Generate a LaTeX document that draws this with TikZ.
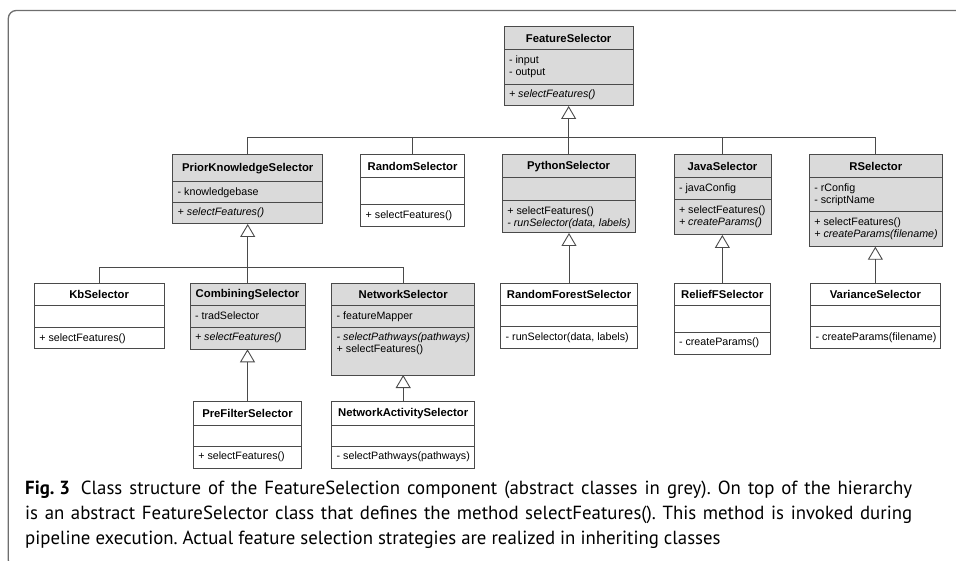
\documentclass[tikz,border=0pt]{standalone}
\usepackage{fontspec}
\setmainfont{Liberation Sans}
\newfontfamily\capfont[FakeStretch=0.99]{PT Sans}
\usetikzlibrary{arrows.meta}

\definecolor{boxline}{HTML}{4A4A4A}
\definecolor{absgray}{HTML}{DADADA}
\definecolor{framegray}{HTML}{6E6E6E}

% compartments of a class box: width, height, text
\newcommand{\ctitle}[3]{\parbox[c][#2pt][c]{#1pt}{\centering\bfseries\fontsize{11.3}{13}\selectfont #3}}
\newcommand{\cpart}[3]{\parbox[t][#2pt][t]{#1pt}{\raggedright\leftskip=5pt\rightskip=0pt plus 1fil\vspace{5pt}\strut#3}}

\begin{document}
\begin{tikzpicture}
[x=1pt,y=-1pt,%
  umlbox/.style={draw=boxline,line width=1pt,inner sep=0pt,outer sep=0pt,%
    anchor=north west,font=\fontsize{10.7}{12}\selectfont},%
  abstract/.style={umlbox,fill=absgray},%
  concrete/.style={umlbox,fill=white},%
  link/.style={draw=boxline,line width=0.9pt},%
  inherit/.style={link,-{Triangle[open,length=13pt,width=15pt]}}]
\useasboundingbox (0,0) rectangle (956,561);
\draw[framegray,line width=1.3pt,rounded corners=8pt] (965,10.5) -- (8.3,10.5) -- (8.3,568) -- (965,568);

% top class
\node[abstract] (fs) at (504,26.7) {\ctitle{129.3}{23.3}{FeatureSelector}};
\node[abstract] (fs-a) at (fs.south west) {\cpart{129.3}{34.3}{- input\\- output}};
\node[abstract] (fs-m) at (fs-a.south west) {\cpart{129.3}{21.7}{\itshape + selectFeatures()}};

% first level
\node[abstract] (pks) at (172.7,155) {\ctitle{150}{26.7}{PriorKnowledgeSelector}};
\node[abstract] (pks-a) at (pks.south west) {\cpart{150}{20.6}{- knowledgebase}};
\node[abstract] (pks-m) at (pks-a.south west) {\cpart{150}{21.7}{\itshape + selectFeatures()}};

\node[concrete] (rs) at (360.7,155) {\ctitle{103.6}{22.7}{RandomSelector}};
\node[concrete] (rs-a) at (rs.south west) {\cpart{103.6}{27.3}{}};
\node[concrete] (rs-m) at (rs-a.south west) {\cpart{103.6}{21.7}{+ selectFeatures()}};

\node[abstract] (py) at (502.3,155) {\ctitle{132.7}{22.7}{PythonSelector}};
\node[abstract] (py-a) at (py.south west) {\cpart{132.7}{23.3}{}};
\node[abstract] (py-m) at (py-a.south west) {\cpart{132.7}{32}{+ selectFeatures()\\\itshape - runSelector(data, labels)}};

\node[abstract] (java) at (674,155) {\ctitle{97}{22.7}{JavaSelector}};
\node[abstract] (java-a) at (java.south west) {\cpart{97}{22.3}{- javaConfig}};
\node[abstract] (java-m) at (java-a.south west) {\cpart{97}{35}{+ selectFeatures()\\\itshape + createParams()}};

\node[abstract] (rsel) at (809.3,155) {\ctitle{133}{22.7}{RSelector}};
\node[abstract] (rsel-a) at (rsel.south west) {\cpart{133}{34}{- rConfig\\- scriptName}};
\node[abstract] (rsel-m) at (rsel-a.south west) {\cpart{133}{35}{+ selectFeatures()\\\itshape + createParams(filename)}};

% second level
\node[concrete] (kb) at (34.3,283.3) {\ctitle{129.7}{22.4}{KbSelector}};
\node[concrete] (kb-a) at (kb.south west) {\cpart{129.7}{22}{}};
\node[concrete] (kb-m) at (kb-a.south west) {\cpart{129.7}{20.6}{+ selectFeatures()}};

\node[abstract] (comb) at (190,283.3) {\ctitle{115}{22.4}{CombiningSelector}};
\node[abstract] (comb-a) at (comb.south west) {\cpart{115}{21.6}{- tradSelector}};
\node[abstract] (comb-m) at (comb-a.south west) {\cpart{115}{22}{\itshape + selectFeatures()}};

\node[abstract] (net) at (331.7,283.3) {\ctitle{143}{22.4}{NetworkSelector}};
\node[abstract] (net-a) at (net.south west) {\cpart{143}{21.6}{- featureMapper}};
\node[abstract] (net-m) at (net-a.south west) {\cpart{143}{47.7}{\textit{- selectPathways(pathways)}\\+ selectFeatures()}};

\node[concrete] (rf) at (500.7,283.3) {\ctitle{136.6}{22.7}{RandomForestSelector}};
\node[concrete] (rf-a) at (rf.south west) {\cpart{136.6}{20.7}{}};
\node[concrete] (rf-m) at (rf-a.south west) {\cpart{136.6}{21.6}{- runSelector(data, labels)}};

\node[concrete] (relief) at (674,283.3) {\ctitle{96.7}{22.7}{ReliefFSelector}};
\node[concrete] (relief-a) at (relief.south west) {\cpart{96.7}{26.3}{}};
\node[concrete] (relief-m) at (relief-a.south west) {\cpart{96.7}{22}{- createParams()}};

\node[concrete] (var) at (810.7,283.3) {\ctitle{129.3}{22.7}{VarianceSelector}};
\node[concrete] (var-a) at (var.south west) {\cpart{129.3}{20.7}{}};
\node[concrete] (var-m) at (var-a.south west) {\cpart{129.3}{21.6}{- createParams(filename)}};

% third level
\node[concrete] (pre) at (193.3,401.7) {\ctitle{108.4}{23.3}{PreFilterSelector}};
\node[concrete] (pre-a) at (pre.south west) {\cpart{108.4}{21}{}};
\node[concrete] (pre-m) at (pre-a.south west) {\cpart{108.4}{22.3}{+ selectFeatures()}};

\node[concrete] (netact) at (331.7,401.7) {\ctitle{143}{23.3}{NetworkActivitySelector}};
\node[concrete] (netact-a) at (netact.south west) {\cpart{143}{21}{}};
\node[concrete] (netact-m) at (netact-a.south west) {\cpart{143}{22.3}{- selectPathways(pathways)}};

% inheritance
\path (fs-m.south) ++(0,31.7) coordinate (fsbus);
\path (pks-m.south) ++(0,43) coordinate (pksbus);
\draw[inherit] (fsbus) -- (fs-m.south);
\draw[link] (pks.north) |- (fsbus);
\draw[link] (rs.north) |- (fsbus);
\draw[link] (py.north) |- (fsbus);
\draw[link] (java.north) |- (fsbus);
\draw[link] (rsel.north) |- (fsbus);
\draw[inherit] (pksbus) -- (pks-m.south);
\draw[link] (kb.north) |- (pksbus);
\draw[link] (comb.north) |- (pksbus);
\draw[link] (net.north) |- (pksbus);
\draw[inherit] (rf.north) -- (rf.north |- py-m.south);
\draw[inherit] (relief.north) -- (relief.north |- java-m.south);
\draw[inherit] (var.north) -- (var.north |- rsel-m.south);
\draw[inherit] (pre.north) -- (pre.north |- comb-m.south);
\draw[inherit] (netact.north) -- (netact.north |- net-m.south);

% caption
\node[anchor=north west,text width=887pt,align=justify,inner sep=0pt,font=\capfont\fontsize{19}{25}\selectfont\frenchspacing] (caption) at (25,481)
  {\mbox{\textbf{Fig. 3}\hspace{11pt}}Class structure of the FeatureSelection component (abstract classes in grey). On top of the hierarchy\linebreak
   is an abstract FeatureSelector class that defines the method selectFeatures(). This method is invoked during\linebreak
   pipeline execution. Actual feature selection strategies are realized in inheriting classes};
\end{tikzpicture}
\end{document}
